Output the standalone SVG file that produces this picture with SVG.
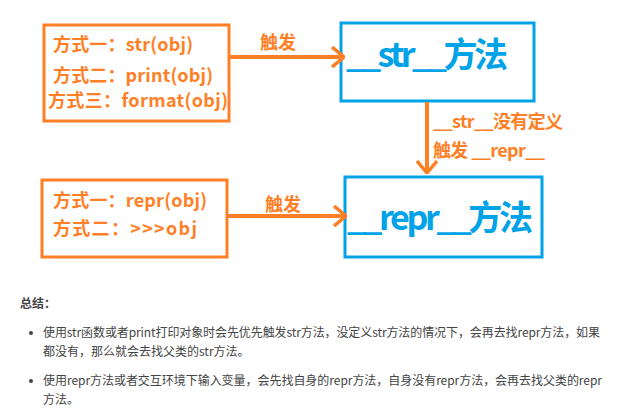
<svg xmlns="http://www.w3.org/2000/svg" width="622" height="419" viewBox="0 0 622 419">
<defs>
<style>
.ob{fill:none;stroke:#FF7F27;stroke-width:3}
.bb{fill:none;stroke:#00A2E8;stroke-width:3}
.ot{font-family:"Noto Sans CJK SC","Noto Sans",sans-serif;font-weight:bold;font-size:18px;fill:#FF7F27}
.bt{font-family:"Noto Sans CJK SC","Noto Sans",sans-serif;font-weight:bold;font-size:34px;fill:#00A2E8}
.lt{font-family:"Noto Sans CJK SC","Noto Sans",sans-serif;font-weight:bold;font-size:18px;fill:#FF7F27}
.ct{font-family:"Noto Sans CJK SC","Noto Sans",sans-serif;font-size:12px;fill:#444}
.edge{fill:none;stroke:#FF7F27;stroke-width:4}
</style>
<marker id="chev" markerUnits="userSpaceOnUse" viewBox="0 0 14 22" refX="13" refY="11" markerWidth="14" markerHeight="22" orient="auto">
<polyline points="1,1 13,11 1,21" fill="none" stroke="#FF7F27" stroke-width="3.5"/>
</marker>
</defs>
<rect width="622" height="419" fill="#ffffff"/>

<g id="node-ways-str">
<rect class="ob" x="44" y="25" width="185" height="96"/>
<text class="ot" x="53" y="51" textLength="140">方式一：str(obj)</text>
<text class="ot" x="53" y="82" textLength="160">方式二：print(obj)</text>
<text class="ot" x="48" y="107" textLength="180">方式三：format(obj)</text>
</g>

<g id="node-str-method">
<rect class="bb" x="341" y="23" width="193" height="78"/>
<text class="bt" x="346" y="67" textLength="162">__str__方法</text>
</g>

<g id="node-ways-repr">
<rect class="ob" x="42" y="180" width="185" height="77"/>
<text class="ot" x="53" y="207" textLength="154">方式一：repr(obj)</text>
<text class="ot" x="53" y="235" textLength="144">方式二：&gt;&gt;&gt;obj</text>
</g>

<g id="node-repr-method">
<rect class="bb" x="345" y="177" width="197" height="80"/>
<text class="bt" x="347" y="230" textLength="186">__repr__方法</text>
</g>

<g id="connectors">
<line class="edge" x1="229" y1="57" x2="344" y2="57" marker-end="url(#chev)"/>
<text class="lt" x="260" y="49">触发</text>
<line class="edge" x1="227" y1="216" x2="346" y2="216" marker-end="url(#chev)"/>
<text class="lt" x="265" y="211">触发</text>
<line class="edge" x1="427" y1="102" x2="427" y2="173" marker-end="url(#chev)"/>
<text class="lt" x="433" y="128" textLength="130">__str__没有定义</text>
<text class="lt" x="433" y="157" textLength="112">触发 __repr__</text>
</g>

<g id="summary">
<text class="ct" x="20" y="308" font-weight="bold" fill="#333">总结：</text>
<circle cx="31" cy="333" r="2" fill="#444"/>
<text class="ct" x="43" y="337" textLength="557">使用str函数或者print打印对象时会先优先触发str方法，没定义str方法的情况下，会再去找repr方法，如果</text>
<text class="ct" x="43" y="356">都没有，那么就会去找父类的str方法。</text>
<circle cx="31" cy="381" r="2" fill="#444"/>
<text class="ct" x="43" y="385" textLength="559">使用repr方法或者交互环境下输入变量，会先找自身的repr方法，自身没有repr方法，会再去找父类的repr</text>
<text class="ct" x="43" y="404">方法。</text>
</g>
</svg>
